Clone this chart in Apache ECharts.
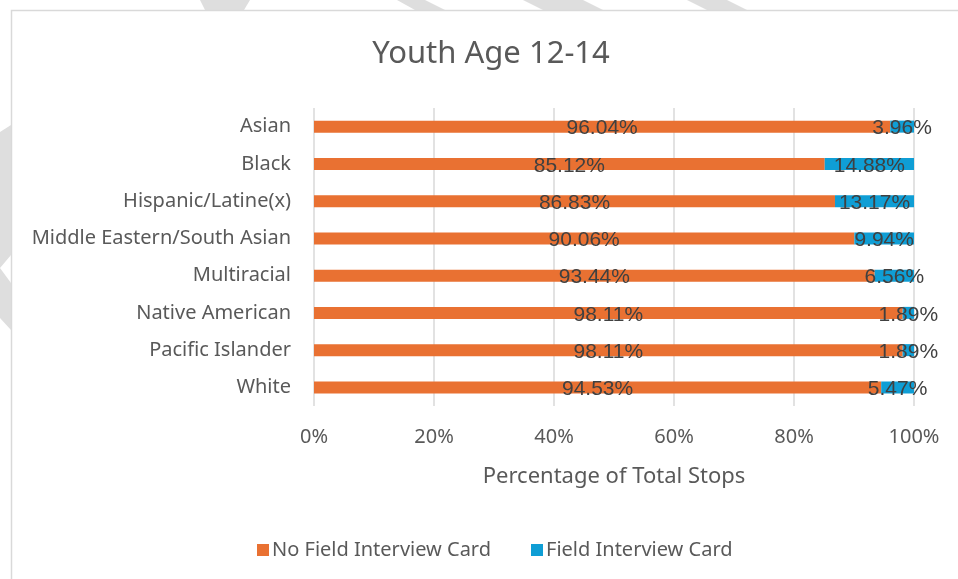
<!DOCTYPE html>
<html>
<head>
<meta charset="utf-8">
<title>Youth Age 12-14</title>
<script src="https://cdn.jsdelivr.net/npm/echarts@6/dist/echarts.min.js"></script>
<style>
  html, body { margin: 0; padding: 0; background: #ffffff; }
  #chart { width: 958px; height: 579px; }
</style>
</head>
<body>
<div id="chart"></div>
<script>
// Stop outcomes for youth aged 12-14, by race/ethnicity (percent of total stops)
const categories = [
  'Asian',
  'Black',
  'Hispanic/Latine(x)',
  'Middle Eastern/South Asian',
  'Multiracial',
  'Native American',
  'Pacific Islander',
  'White'
];
const noFieldInterviewCard = [96.04, 85.12, 86.83, 90.06, 93.44, 98.11, 98.11, 94.53];
const fieldInterviewCard = [3.96, 14.88, 13.17, 9.94, 6.56, 1.89, 1.89, 5.47];
const xTicks = [0, 20, 40, 60, 80, 100];

const seriesNames = ['No Field Interview Card', 'Field Interview Card'];
const AXIS_FONT = '"Noto Sans", "Open Sans", sans-serif';
const LABEL_FONT = '"Liberation Sans", Arial, sans-serif';

const chart = echarts.init(document.getElementById('chart'), null, { renderer: 'canvas' });

function barLabel() {
  return {
    show: true,
    position: 'inside',
    offset: [0, 2],
    color: '#404040',
    fontFamily: LABEL_FONT,
    fontSize: 21,
    formatter: p => p.value.toFixed(2) + '%'
  };
}

chart.setOption({
  backgroundColor: '#ffffff',
  animation: false,
  graphic: [
    // faint background shapes peeking out around the chart frame
    { type: 'polygon', z: -10, shape: { points: [[200, 0], [250, 0], [244, 10], [205, 10]] }, style: { fill: '#dedede' } },
    { type: 'polygon', z: -10, shape: { points: [[397, 0], [425, 0], [445, 10], [415, 10]] }, style: { fill: '#dedede' } },
    { type: 'polygon', z: -10, shape: { points: [[523, 0], [583, 0], [603, 10], [543, 10]] }, style: { fill: '#dedede' } },
    { type: 'polygon', z: -10, shape: { points: [[687, 0], [727, 0], [747, 10], [707, 10]] }, style: { fill: '#dedede' } },
    { type: 'polygon', z: -10, shape: { points: [[0, 132], [11, 125], [11, 255], [0, 268], [11, 283], [11, 330], [0, 318]] }, style: { fill: '#dedede' } },
    // chart frame
    { type: 'rect', z: -5, shape: { x: 11.5, y: 10.5, width: 1000, height: 600 }, style: { fill: '#ffffff', stroke: '#d9d9d9', lineWidth: 1.5 } }
  ],
  title: {
    text: 'Youth Age 12-14',
    left: 486,
    top: 34,
    textAlign: 'center',
    textStyle: { fontFamily: AXIS_FONT, fontSize: 31, fontWeight: 'normal', color: '#595959' }
  },
  legend: {
    data: seriesNames,
    left: 252,
    top: 535,
    icon: 'rect',
    itemWidth: 12,
    itemHeight: 12,
    itemGap: 40,
    textStyle: { fontFamily: AXIS_FONT, fontSize: 20, color: '#595959', padding: [0, 0, 0, -2] }
  },
  grid: { left: 314, right: 44, top: 108, bottom: 173, containLabel: false },
  xAxis: {
    type: 'value',
    min: 0,
    max: xTicks[xTicks.length - 1],
    interval: xTicks[1] - xTicks[0],
    axisLine: { show: false },
    axisTick: { show: false },
    splitLine: { show: true, lineStyle: { color: '#d9d9d9', width: 1.5 } },
    axisLabel: { margin: 21, fontFamily: AXIS_FONT, fontSize: 20, color: '#595959', formatter: '{value}%' },
    name: 'Percentage of Total Stops',
    nameLocation: 'middle',
    nameGap: 60,
    nameTextStyle: { fontFamily: AXIS_FONT, fontSize: 22, color: '#595959' }
  },
  yAxis: {
    type: 'category',
    data: categories,
    inverse: true,
    axisLine: { show: false },
    axisTick: { show: false },
    axisLabel: { margin: 23, fontFamily: AXIS_FONT, fontSize: 20, color: '#595959' }
  },
  series: [
    {
      name: seriesNames[0],
      type: 'bar',
      stack: 'total',
      data: noFieldInterviewCard,
      barWidth: 12,
      itemStyle: { color: '#E97132' },
      label: barLabel()
    },
    {
      name: seriesNames[1],
      type: 'bar',
      stack: 'total',
      data: fieldInterviewCard,
      barWidth: 12,
      itemStyle: { color: '#0F9ED5' },
      label: barLabel()
    }
  ]
});
</script>
</body>
</html>
